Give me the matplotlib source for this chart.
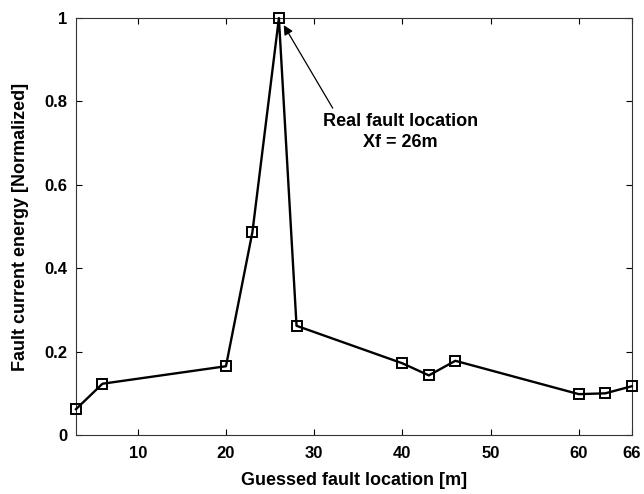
import numpy as np
import matplotlib.pyplot as plt

plt.rcParams['font.family'] = ['Liberation Sans', 'DejaVu Sans']
plt.rcParams['font.weight'] = 'bold'

x_loc = [3, 6, 20, 23, 26, 28, 40, 43, 46, 60, 63, 66]
energy = [0.062, 0.123, 0.165, 0.487, 1.0, 0.262, 0.172, 0.143, 0.178, 0.098, 0.100, 0.117]
x_ticks = [10, 20, 30, 40, 50, 60, 66]
y_ticks = [0, 0.2, 0.4, 0.6, 0.8, 1]
y_ticklabels = ['0', '0.2', '0.4', '0.6', '0.8', '1']

fig = plt.figure(figsize=(6.44, 4.94), dpi=100)
ax = fig.add_axes([0.118, 0.1194, 0.863, 0.844])

ax.plot(x_loc, energy, '-s', color='black', lw=1.7, ms=7,
        mfc='none', mec='black', mew=1.4, clip_on=False, zorder=3)

ax.set_xlim(3, 66)
ax.set_ylim(0, 1)
ax.set_xticks(x_ticks)
ax.set_yticks(y_ticks)
ax.set_yticklabels(y_ticklabels)
ax.tick_params(direction='in', top=True, right=True, labelsize=12, length=4)
ax.tick_params(axis='x', pad=8)
ax.tick_params(axis='y', pad=6)
for s in ax.spines.values():
    s.set_color('#333333')

ax.set_xlabel('Guessed fault location [m]', fontsize=13, fontweight='bold', labelpad=8)
ax.set_ylabel('Fault current energy [Normalized]', fontsize=13, fontweight='bold', labelpad=11)

# arrow to the peak, then the text below it
ax.annotate('', xy=(26.55, 0.983), xytext=(32.1, 0.784),
            arrowprops=dict(arrowstyle='-|>', color='black', lw=0.9,
                            mutation_scale=14, shrinkA=0, shrinkB=0))
ax.text(39.8, 0.727, 'Real fault location\nXf = 26m', ha='center', va='center',
        fontsize=13, fontweight='bold', linespacing=1.25)

plt.savefig('out.png', dpi=100)
